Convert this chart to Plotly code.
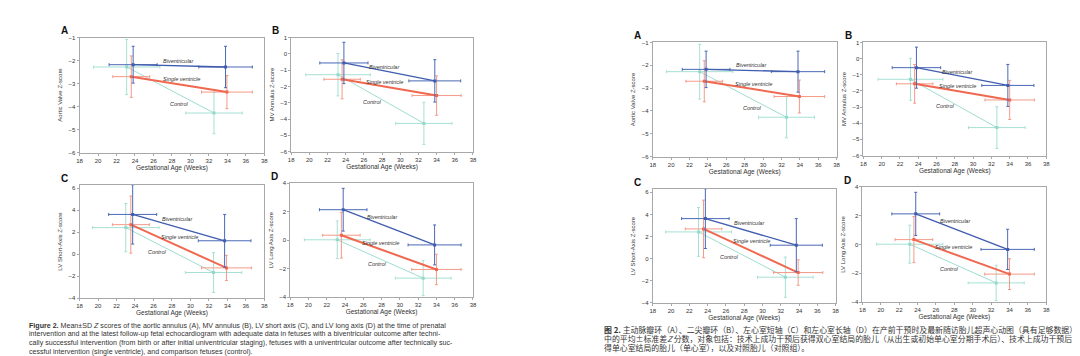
import plotly.graph_objects as go

# ---------------- data ----------------
x_ticks = [18, 20, 22, 24, 26, 28, 30, 32, 34, 36, 38]
panel_letters = ["A", "B", "C", "D"]
y_titles = ["Aortic Valve Z-score", "MV Annulus Z-score",
            "LV Short-Axis Z-score", "LV Long Axis Z-score"]
y_ranges = [[-6, -1], [-6, 1], [-4, 6.3], [-4, 4]]
y_dticks = [1, 1, 2, 2]
series_names = ["Control", "Single ventricle", "Biventricular"]

# A: aortic valve
A_ctrl_x = [23.1, 32.55]; A_ctrl_xsd = [3.6, 3.05]; A_ctrl_y = [-2.28, -4.28]; A_ctrl_ysd = [1.2, 0.9]
A_sv_x = [23.6, 33.95];   A_sv_xsd = [2.0, 2.75];   A_sv_y = [-2.7, -3.37];    A_sv_ysd = [0.9, 0.72]
A_biv_x = [23.8, 33.8];   A_biv_xsd = [2.6, 2.9];   A_biv_y = [-2.18, -2.28];  A_biv_ysd = [0.8, 0.9]
# B: MV annulus
B_ctrl_x = [23.15, 32.6]; B_ctrl_xsd = [3.55, 3.1]; B_ctrl_y = [-1.28, -4.27]; B_ctrl_ysd = [1.3, 1.29]
B_sv_x = [23.6, 34.0];    B_sv_xsd = [2.0, 2.7];    B_sv_y = [-1.56, -2.56];   B_sv_ysd = [1.2, 1.21]
B_biv_x = [23.8, 33.8];   B_biv_xsd = [2.65, 2.85]; B_biv_y = [-0.56, -1.66];  B_biv_ysd = [1.27, 1.3]
# C: LV short axis
C_ctrl_x = [23.0, 32.5];  C_ctrl_xsd = [3.6, 3.05]; C_ctrl_y = [2.42, -1.67];  C_ctrl_ysd = [2.2, 1.82]
C_sv_x = [23.55, 33.9];   C_sv_xsd = [2.0, 2.7];    C_sv_y = [2.69, -1.25];    C_sv_ysd = [2.6, 1.15]
C_biv_x = [23.75, 33.7];  C_biv_xsd = [2.6, 2.85];  C_biv_y = [3.62, 1.22];    C_biv_ysd = [2.7, 2.4]
# D: LV long axis
D_ctrl_x = [23.15, 32.55]; D_ctrl_xsd = [3.6, 3.05]; D_ctrl_y = [0.02, -2.67]; D_ctrl_ysd = [1.32, 1.23]
D_sv_x = [23.6, 34.0];     D_sv_xsd = [2.05, 2.7];   D_sv_y = [0.34, -2.06];   D_sv_ysd = [1.6, 1.07]
D_biv_x = [23.8, 33.8];    D_biv_xsd = [2.6, 2.9];   D_biv_y = [2.13, -0.34];  D_biv_ysd = [1.5, 1.4]

# series label positions (x, y) per panel: Control, Single ventricle, Biventricular
A_label_pos = [(28.8, -3.87), (29.0, -2.8), (28.7, -2.0)]
B_label_pos = [(27.0, -2.96), (28.3, -1.7), (28.25, -0.8)]
C_label_pos = [(26.4, 0.18), (28.85, 1.6), (28.6, 3.2)]
D_label_pos = [(27.5, -1.7), (27.9, -0.2), (28.1, 1.6)]

caption_en = [
    "<b>Figure 2.</b> Mean\u00b1SD <i>Z</i> scores of the aortic annulus (A), MV annulus (B), LV short axis (C), and LV long axis (D) at the time of prenatal",
    "intervention and at the latest follow-up fetal echocardiogram with adequate data in fetuses with a biventricular outcome after techni-",
    "cally successful intervention (from birth or after initial univentricular staging), fetuses with a univentricular outcome after technically suc-",
    "cessful intervention (single ventricle), and comparison fetuses (control).",
]
caption_zh = [
    "<b>图 2.</b> 主动脉瓣环（A）、二尖瓣环（B）、左心室短轴（C）和左心室长轴（D）在产前干预时及最新随访胎儿超声心动图（具有足够数据）",
    "中的平均±标准差<i>Z</i> 分数，对象包括：技术上成功干预后获得双心室结局的胎儿（从出生或初始单心室分期手术后）、技术上成功干预后获",
    "得单心室结局的胎儿（单心室），以及对照胎儿（对照组）。",
]

panels = [
    [(A_ctrl_x, A_ctrl_xsd, A_ctrl_y, A_ctrl_ysd), (A_sv_x, A_sv_xsd, A_sv_y, A_sv_ysd), (A_biv_x, A_biv_xsd, A_biv_y, A_biv_ysd)],
    [(B_ctrl_x, B_ctrl_xsd, B_ctrl_y, B_ctrl_ysd), (B_sv_x, B_sv_xsd, B_sv_y, B_sv_ysd), (B_biv_x, B_biv_xsd, B_biv_y, B_biv_ysd)],
    [(C_ctrl_x, C_ctrl_xsd, C_ctrl_y, C_ctrl_ysd), (C_sv_x, C_sv_xsd, C_sv_y, C_sv_ysd), (C_biv_x, C_biv_xsd, C_biv_y, C_biv_ysd)],
    [(D_ctrl_x, D_ctrl_xsd, D_ctrl_y, D_ctrl_ysd), (D_sv_x, D_sv_xsd, D_sv_y, D_sv_ysd), (D_biv_x, D_biv_xsd, D_biv_y, D_biv_ysd)],
]
label_positions = [A_label_pos, B_label_pos, C_label_pos, D_label_pos]

# ---------------- styling / layout ----------------
W, H = 1080, 356
line_colors = ["#93d9cb", "#f0684f", "#3f5cae"]
err_colors = ["#a6e0d4", "#f59a88", "#4a68b6"]
line_widths = [0.9, 2.0, 1.3]
FONT = "Liberation Sans, Arial, sans-serif"
CJK = "Noto Sans CJK SC, sans-serif"

# plot boxes in pixels: (left, right, top, bottom)
boxes = [
    [(69, 255, 27, 144), (282, 465, 27, 143), (69, 255, 177, 292), (281, 465, 175, 291)],
    [(646, 831, 32, 148), (858, 1042, 32, 147), (646, 830, 181, 297), (857, 1042, 179, 296)],
]

fig = go.Figure()
layout = dict(width=W, height=H, margin=dict(l=0, r=0, t=0, b=0),
              paper_bgcolor="white", plot_bgcolor="white", showlegend=False,
              font=dict(family=FONT, color="#333"))
annotations = []

idx = 0
for copy in range(2):
    for p in range(4):
        idx += 1
        xa = "x" if idx == 1 else f"x{idx}"
        ya = "y" if idx == 1 else f"y{idx}"
        xk = "xaxis" if idx == 1 else f"xaxis{idx}"
        yk = "yaxis" if idx == 1 else f"yaxis{idx}"
        l, r, t, b = boxes[copy][p]
        for s in range(3):
            sx, sxsd, sy, sysd = panels[p][s]
            fig.add_trace(go.Scatter(
                x=sx, y=sy, xaxis=xa, yaxis=ya, mode="lines+markers",
                line=dict(color=line_colors[s], width=line_widths[s]),
                marker=dict(symbol="square", size=3, color=line_colors[s]),
                error_x=dict(type="data", array=sxsd, color=err_colors[s], thickness=1, width=1.5),
                error_y=dict(type="data", array=sysd, color=err_colors[s], thickness=1, width=1.5),
                name=series_names[s], hoverinfo="skip"))
            lx, ly = label_positions[p][s]
            annotations.append(dict(x=lx, y=ly, xref=xa, yref=ya, text=f"<i>{series_names[s]}</i>",
                                    showarrow=False, font=dict(size=5.5, color="#333", family=FONT)))
        axis_common = dict(showline=True, mirror=True, linecolor="#a8a8a8", linewidth=1,
                           showgrid=False, zeroline=False, ticks="outside", ticklen=2,
                           tickcolor="#a8a8a8", tickfont=dict(size=6, color="#333", family=FONT))
        layout[xk] = dict(axis_common, domain=[l / W, r / W], anchor=ya, range=[18, 38],
                          tickvals=x_ticks,
                          title=dict(text="Gestational Age (Weeks)", font=dict(size=6.5, color="#333"), standoff=2))
        layout[yk] = dict(axis_common, domain=[1 - b / H, 1 - t / H], anchor=xa,
                          range=y_ranges[p], dtick=y_dticks[p],
                          title=dict(text=y_titles[p], font=dict(size=6, color="#333"), standoff=5))
        annotations.append(dict(x=(l - 21) / W, y=1 - (t - 7) / H, xref="paper", yref="paper",
                                text=f"<b>{panel_letters[p]}</b>", showarrow=False,
                                xanchor="left", yanchor="middle",
                                font=dict(size=10, color="#111", family=FONT)))

for i, line in enumerate(caption_en):
    annotations.append(dict(x=16 / W, y=1 - (320 + 9 * i) / H, xref="paper", yref="paper",
                            text=line, showarrow=False, xanchor="left", yanchor="middle",
                            font=dict(size=7.1, color="#333", family=FONT)))
for i, line in enumerate(caption_zh):
    annotations.append(dict(x=595 / W, y=1 - (324 + 9.3 * i) / H, xref="paper", yref="paper",
                            text=line, showarrow=False, xanchor="left", yanchor="middle",
                            font=dict(size=7.9, color="#333", family=CJK)))

layout["annotations"] = annotations
fig.update_layout(**layout)
fig.write_html("out.html")
